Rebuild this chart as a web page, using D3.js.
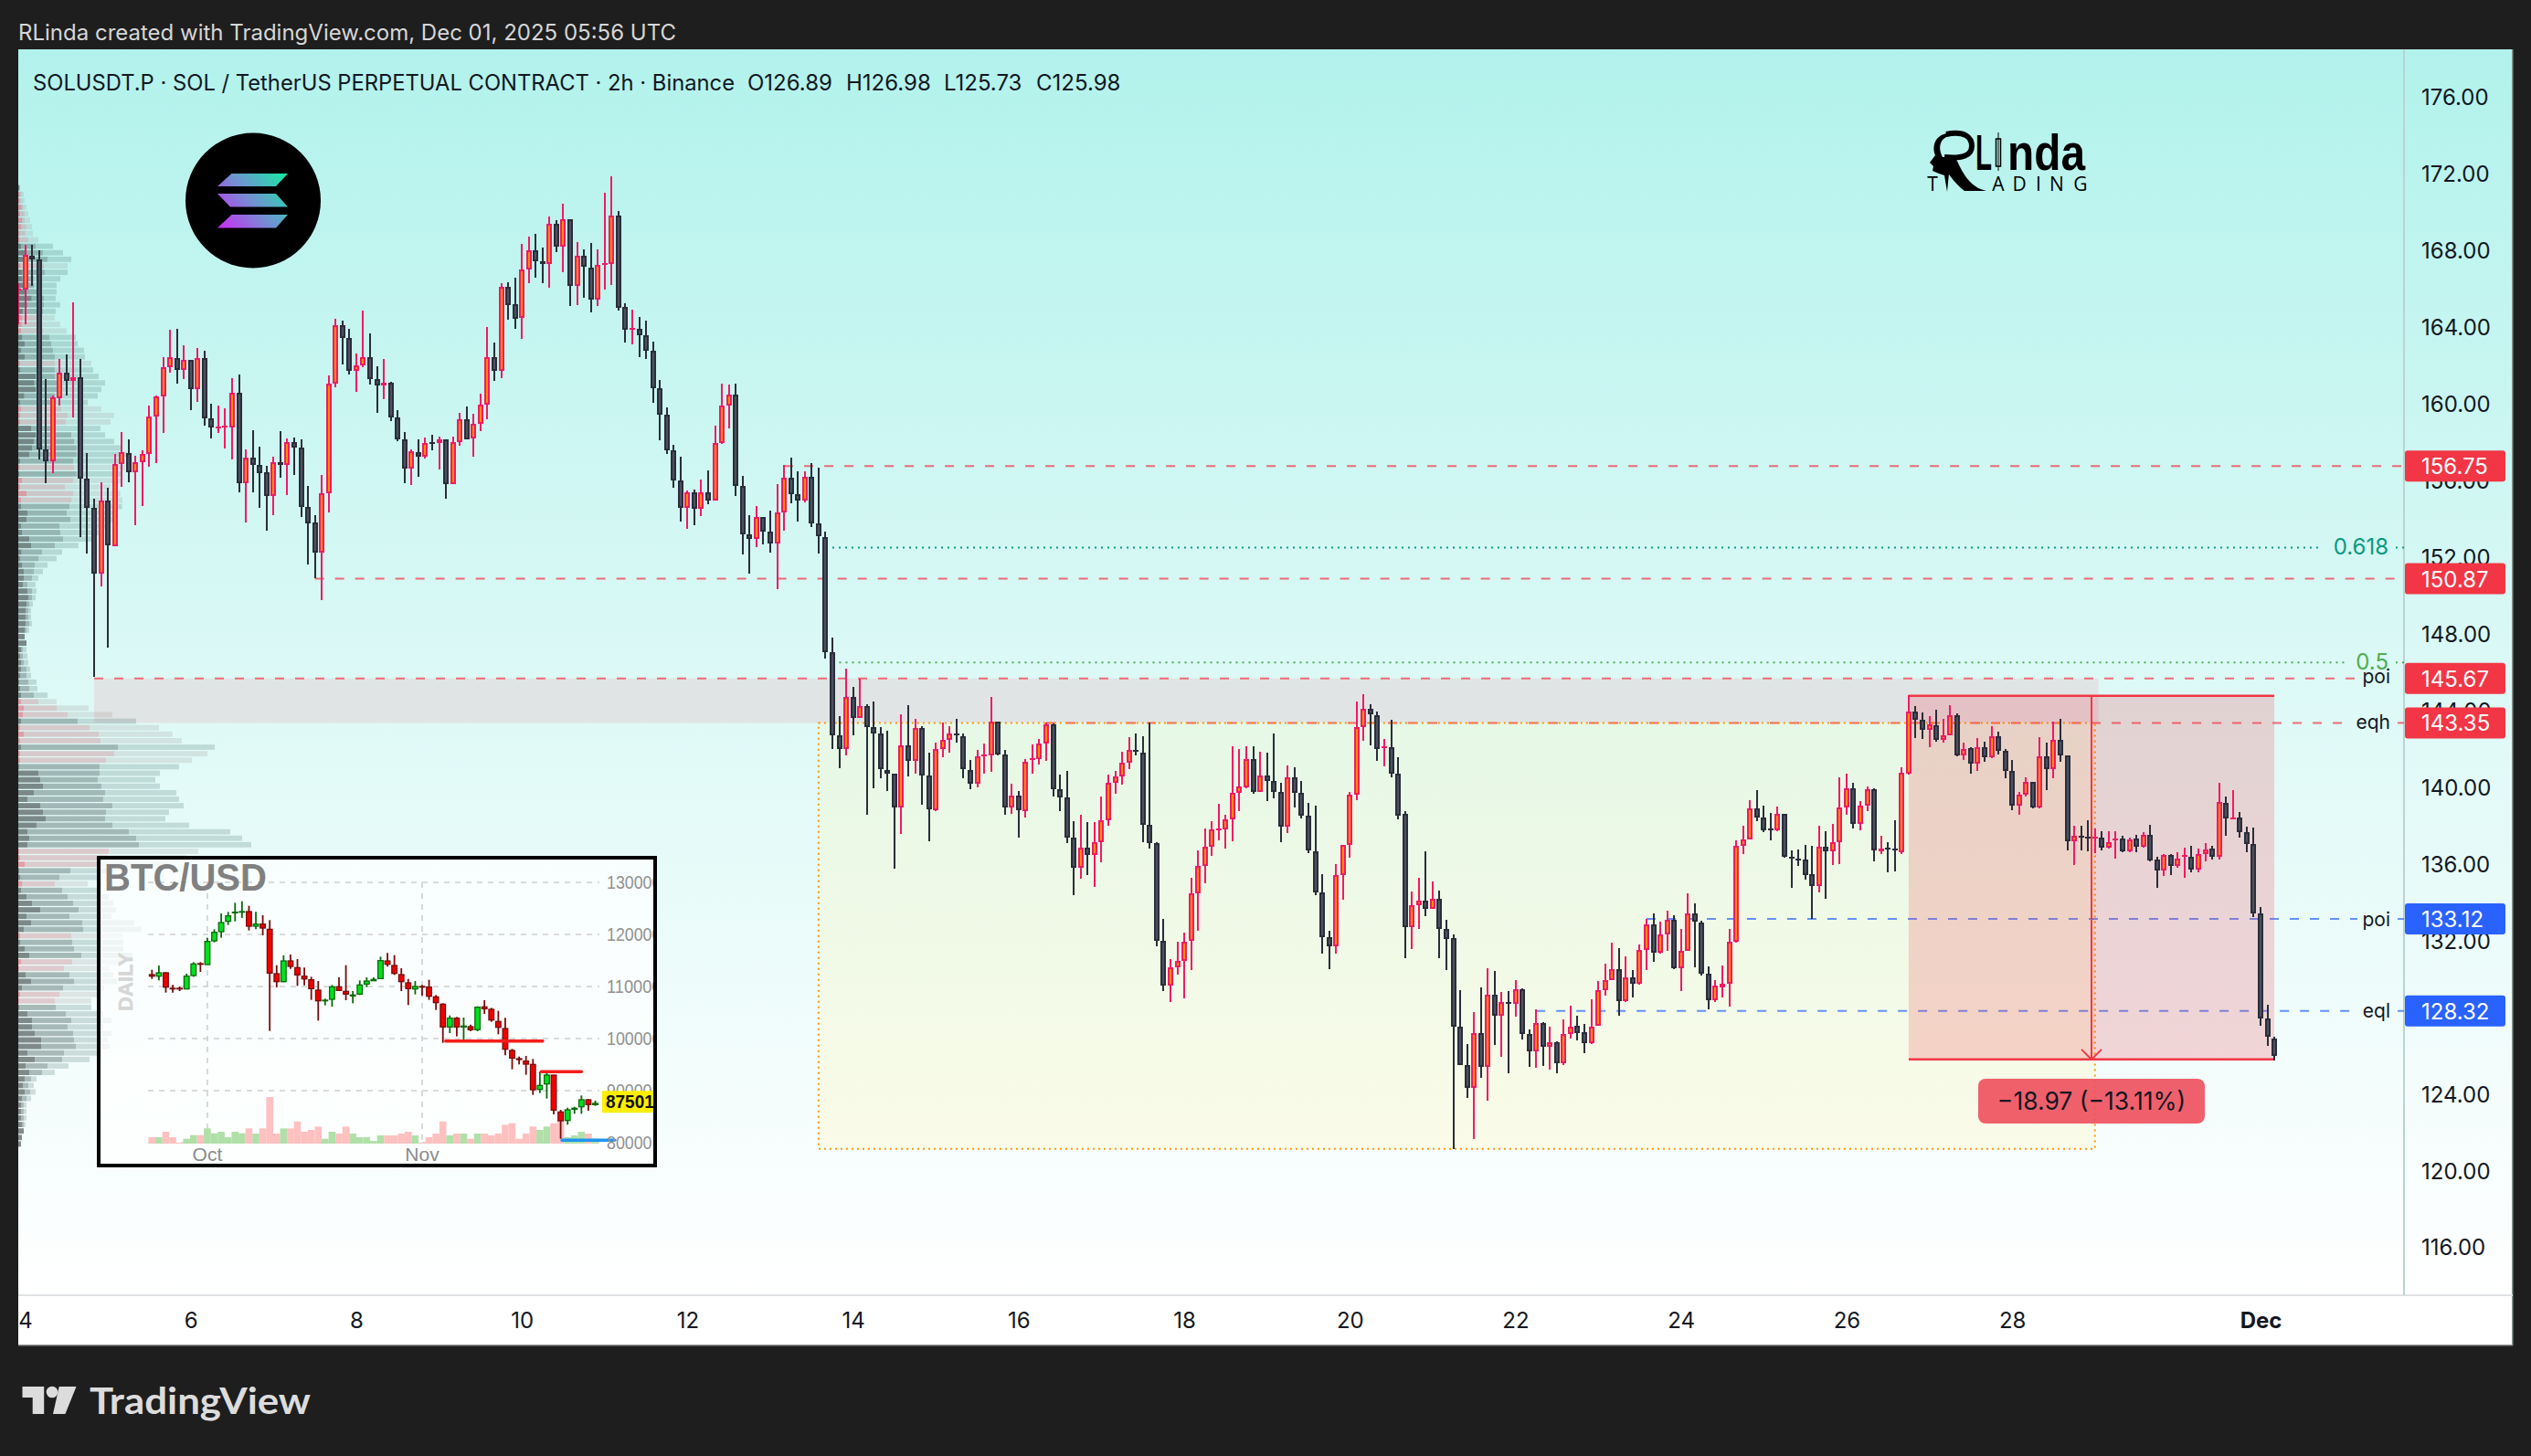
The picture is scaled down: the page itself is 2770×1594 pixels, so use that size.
<!DOCTYPE html>
<html>
<head>
<meta charset="utf-8">
<title>SOLUSDT.P 2h</title>
<script src="https://cdn.jsdelivr.net/npm/d3@7/dist/d3.min.js"></script>
<style>
html, body { margin: 0; padding: 0; background: #1e1e1e; }
svg { display: block; font-family: Inter, "Liberation Sans", sans-serif; }
</style>
</head>
<body>
<div id="chart"></div>
<script>
// SOLUSDT.P 2h bars, first bar is Nov 3 22:00 UTC, one bar every two hours
const opens = [165.95,
165.97,167.73,167.54,157.63,157.01,160.30,161.63,161.21,161.40,156.11,
154.59,151.16,154.97,152.59,156.87,157.44,156.44,156.97,157.40,159.35,
160.40,161.92,162.40,161.78,162.30,160.78,162.40,159.25,158.76,158.83,
158.78,160.59,155.87,157.21,156.83,156.44,155.21,156.97,156.83,158.02,
157.73,154.63,153.83,152.25,155.35,161.06,164.11,163.44,161.73,161.98,
162.44,161.30,160.97,161.11,159.30,158.16,156.63,157.49,157.25,158.02,
157.97,158.12,155.81,158.02,159.21,158.21,158.97,159.97,162.45,161.74,
166.12,165.21,164.50,167.02,168.02,167.45,167.31,169.40,168.21,169.64,
166.16,167.74,167.12,165.45,167.31,167.31,169.83,165.07,163.93,163.93,
163.59,162.78,160.83,159.45,157.55,156.02,154.55,155.36,154.50,155.40,
154.93,157.97,159.93,160.50,155.69,153.21,152.97,154.07,153.35,152.69,
154.31,156.12,155.26,154.97,156.21,153.78,153.04,147.05,142.69,142.00,
144.68,143.63,144.24,143.15,142.81,140.90,140.72,138.96,142.20,141.38,
143.09,140.62,138.81,142.00,142.48,142.81,142.66,140.90,140.16,141.67,
141.67,143.43,141.72,138.96,139.57,138.73,141.44,141.44,142.25,143.27,
139.90,139.45,137.38,135.77,136.82,136.46,137.15,138.25,140.24,140.57,
141.28,141.95,141.82,138.02,137.10,132.00,129.63,130.62,130.95,131.97,
134.47,135.90,136.87,137.81,137.81,138.30,139.68,139.98,141.44,139.73,
140.62,140.34,139.73,137.94,140.52,139.68,138.53,136.67,134.52,132.15,
131.67,135.39,137.00,139.62,143.15,144.09,143.76,142.07,142.10,140.72,
138.58,132.71,133.86,134.06,133.66,134.19,132.58,132.10,127.51,125.49,
124.29,127.15,125.42,129.19,128.09,128.81,128.71,129.45,127.10,126.21,
127.71,126.44,126.67,125.57,127.10,127.56,127.20,126.64,127.56,129.40,
129.91,130.49,128.83,130.06,129.75,131.51,132.86,131.38,132.33,133.09,
130.57,131.46,133.43,132.94,130.24,128.86,129.55,129.73,131.95,136.92,
137.25,138.91,138.40,137.86,137.76,138.58,136.38,136.28,136.23,135.44,
134.83,136.87,136.67,137.15,138.96,139.96,138.09,139.01,139.88,136.64,
136.84,136.77,136.61,140.70,143.96,143.50,142.99,143.25,142.48,142.71,
143.73,141.67,142.05,141.23,142.10,141.54,142.66,141.89,140.82,139.04,
139.62,140.29,138.94,141.61,140.93,142.48,141.64,137.18,137.46,137.41,
137.35,137.38,136.82,137.25,137.33,136.67,137.30,136.87,137.53,136.21,
135.67,136.44,135.87,136.36,136.38,135.72,136.49,136.77,136.38,139.19,
138.35,138.42,137.64,137.02,133.39,127.92,126.89];

const closes = [166.03,
167.75,167.54,157.63,157.01,160.33,161.63,161.21,161.40,156.11,154.59,
151.16,154.97,152.62,156.87,157.49,156.44,156.97,157.40,159.35,160.40,
161.92,162.44,161.78,162.30,160.78,162.40,159.25,158.78,158.81,158.87,
160.59,155.87,157.21,156.83,156.40,155.21,156.97,156.83,158.02,157.73,
154.63,153.78,152.25,155.35,161.06,164.11,163.44,161.73,162.02,162.44,
161.30,160.97,161.11,159.30,158.16,156.63,157.54,157.25,157.97,157.97,
158.12,155.81,158.02,159.21,158.16,158.97,159.97,162.45,161.74,166.12,
165.16,164.45,167.02,168.02,167.45,167.31,169.40,168.21,169.64,166.16,
167.74,167.16,165.45,167.26,167.35,169.83,165.02,163.88,163.97,163.59,
162.78,160.83,159.45,157.55,156.02,154.55,155.36,154.50,155.40,154.93,
157.97,159.93,160.50,155.69,153.21,152.97,154.07,153.35,152.69,154.31,
156.12,155.26,154.97,156.21,153.78,153.07,147.05,142.69,142.00,144.68,
143.63,144.24,143.12,142.81,140.93,140.72,138.96,142.20,141.38,143.09,
140.62,138.86,142.00,142.48,142.81,142.71,140.93,140.16,141.61,141.72,
143.43,141.72,138.96,139.57,138.81,141.33,141.49,142.25,143.27,139.90,
139.45,137.38,135.77,136.82,136.46,137.15,138.25,140.24,140.57,141.28,
141.95,141.84,138.02,137.10,132.00,129.63,130.62,130.95,131.95,134.47,
135.90,136.87,137.81,137.86,138.30,139.68,140.01,141.44,139.73,140.62,
140.34,139.73,137.94,140.52,139.68,138.53,136.69,134.50,132.15,131.67,
135.39,137.00,139.62,143.15,144.09,143.78,142.00,142.15,140.72,138.53,
132.71,133.86,134.06,133.63,134.19,132.58,132.07,127.51,125.49,124.29,
127.15,125.42,129.19,128.09,128.81,128.71,129.45,127.10,126.21,127.71,
126.44,126.67,125.57,127.10,127.51,127.15,126.64,127.51,129.40,129.91,
130.49,128.83,130.06,129.75,131.51,132.86,131.38,132.33,133.09,130.57,
131.46,133.43,132.97,130.24,128.86,129.63,129.73,131.95,136.92,137.25,
138.91,138.40,137.76,137.79,138.58,136.36,136.31,136.23,135.39,134.83,
136.87,136.64,137.15,138.96,139.96,138.09,139.01,139.88,136.69,136.79,
136.77,136.69,140.75,143.96,143.50,142.99,143.27,142.48,142.71,143.73,
141.67,142.00,141.23,142.10,141.54,142.66,141.87,140.82,139.04,139.62,
140.29,138.94,141.61,140.93,142.48,141.64,137.18,137.46,137.38,137.35,
137.43,136.82,137.12,137.33,136.67,137.28,136.87,137.53,136.18,135.67,
136.44,135.87,136.28,136.44,135.72,136.49,136.74,136.36,139.24,138.35,
138.43,137.64,137.02,133.39,127.92,126.96,125.98];

const highs = [166.29,
168.30,168.30,168.02,161.27,160.44,162.32,162.59,165.27,162.32,157.41,
155.03,155.89,155.60,157.36,158.51,158.13,157.27,157.59,159.89,160.44,
162.41,163.84,163.89,163.03,162.30,162.89,162.75,159.98,159.89,159.75,
161.32,161.51,157.60,158.60,157.75,156.75,157.22,158.56,158.17,158.22,
158.13,155.70,154.17,156.27,161.46,164.41,164.36,163.89,162.60,164.84,
163.65,161.94,162.32,161.16,159.65,158.51,157.60,158.13,158.22,158.37,
158.28,158.12,158.28,159.51,159.85,159.47,160.51,163.99,163.18,166.28,
166.32,166.56,168.32,168.70,168.85,168.13,169.75,169.56,170.42,169.64,
168.42,168.04,168.37,168.04,170.99,171.89,170.04,165.23,164.89,164.51,
164.32,163.23,161.23,159.80,157.85,157.23,155.47,155.51,156.04,156.51,
158.85,161.04,160.99,161.04,156.23,154.18,154.66,154.07,154.42,155.80,
156.80,157.18,156.47,156.47,156.89,156.66,153.35,147.79,143.68,146.16,
145.21,145.65,144.34,144.45,143.15,142.92,140.72,143.78,144.27,143.58,
143.17,141.79,142.30,143.37,143.17,143.55,142.81,141.41,141.92,142.28,
144.70,143.43,141.92,140.16,139.80,141.46,142.23,142.51,143.37,143.30,
140.64,140.85,138.22,138.55,138.17,138.17,139.50,140.64,140.85,141.84,
142.61,142.79,142.66,143.37,137.15,133.12,131.03,131.95,132.41,135.26,
136.69,137.84,138.22,139.11,138.55,142.12,141.97,142.12,142.12,141.84,
141.79,142.79,140.21,141.13,141.03,140.31,139.17,139.04,135.47,132.51,
135.98,137.00,139.75,144.47,144.83,144.34,143.96,142.51,143.50,141.56,
138.73,134.55,135.26,136.64,135.06,134.62,133.09,132.33,129.40,126.59,
128.27,129.55,130.57,130.39,129.29,129.37,129.93,129.52,127.38,128.40,
127.76,127.51,126.74,127.86,128.58,128.09,127.63,128.91,129.88,130.77,
131.87,131.59,131.15,130.44,131.77,133.12,133.43,132.99,133.55,133.30,
132.61,134.45,133.94,133.04,130.64,129.93,130.70,132.61,137.20,137.97,
139.32,139.83,139.04,138.66,138.99,138.60,136.69,136.74,136.97,136.95,
137.99,137.71,138.09,140.52,140.70,140.21,139.29,140.01,139.96,137.46,
137.12,138.27,141.03,144.78,144.22,143.88,143.71,144.04,143.58,144.27,
143.83,142.30,142.10,142.56,142.35,143.17,142.89,142.00,141.41,139.75,
140.52,140.29,142.63,142.30,143.40,143.58,141.67,137.97,137.97,138.27,
137.84,137.71,137.71,137.71,137.46,137.38,137.51,137.66,138.02,136.38,
136.49,136.49,136.61,136.82,136.95,136.77,137.10,136.95,140.21,139.50,
139.83,138.69,137.92,137.88,133.72,128.62,126.98];

const lows = [164.17,
164.14,166.14,157.08,155.84,156.38,159.89,160.41,159.27,153.03,152.17,
145.76,150.46,147.27,152.59,155.65,155.89,153.65,154.65,156.70,156.89,
158.46,161.60,161.03,161.27,159.65,160.08,158.84,158.17,158.46,157.65,
157.08,155.36,153.79,155.36,154.55,153.37,154.17,156.13,155.22,156.27,
154.08,151.60,150.92,149.75,154.32,160.84,162.03,161.55,160.60,161.89,
160.98,159.51,160.22,159.08,158.03,155.84,155.75,156.17,157.13,157.56,
156.56,155.04,155.81,157.80,158.12,157.23,158.56,159.18,161.18,161.32,
164.37,163.89,163.37,166.28,166.56,166.28,166.04,167.89,166.85,165.08,
165.13,165.51,164.75,165.08,165.94,166.18,164.85,163.18,163.08,162.42,
162.32,160.04,158.08,157.37,155.61,153.85,153.47,153.66,154.13,154.75,
154.93,157.89,158.70,155.18,152.13,151.13,152.51,152.66,152.23,150.32,
153.37,154.80,153.85,154.85,153.56,152.18,146.72,142.00,140.98,141.64,
142.69,143.63,138.55,139.93,140.47,139.80,135.75,137.56,140.54,140.70,
139.06,137.18,138.73,141.56,141.79,142.30,140.47,139.88,139.98,140.70,
140.80,141.64,138.55,138.60,137.35,138.40,140.70,141.18,141.36,139.50,
138.76,137.07,134.37,135.21,135.42,134.80,136.08,137.99,139.65,140.13,
140.93,141.64,137.15,136.77,131.69,129.37,128.78,130.21,128.99,130.47,
132.51,134.98,136.41,137.20,136.79,137.18,138.73,139.93,139.65,139.73,
139.27,139.42,137.12,137.61,138.94,138.37,136.56,134.37,131.31,130.52,
131.31,134.11,136.31,139.32,142.40,142.18,141.36,141.10,140.52,138.32,
131.08,131.56,132.61,133.27,133.63,131.08,130.47,121.13,125.49,123.78,
121.64,124.83,123.63,126.56,125.93,125.08,128.02,126.84,125.39,125.34,
125.47,125.26,125.08,125.52,126.87,126.79,126.10,126.61,127.56,129.11,
129.91,128.09,128.78,129.01,129.68,130.44,130.87,131.33,131.46,130.49,
129.34,131.46,130.62,130.19,128.40,128.78,129.04,128.53,131.89,136.49,
137.25,138.22,137.66,137.23,137.71,136.31,134.75,135.87,135.16,133.12,
134.50,134.19,135.93,135.98,138.55,137.84,137.76,138.73,136.13,136.49,
135.54,135.59,136.49,140.64,142.56,142.51,142.10,142.35,142.30,142.71,
141.61,141.41,140.72,140.85,141.33,141.49,141.72,140.44,138.78,138.55,
139.50,138.89,138.91,139.83,140.47,141.33,136.69,135.93,136.69,136.64,
136.56,136.69,136.77,136.26,136.61,136.61,136.61,136.82,136.13,134.73,
135.34,135.42,135.80,135.29,135.54,135.54,136.13,136.23,136.23,137.46,
138.35,137.37,136.61,133.22,127.53,126.50,125.73];

// volume profile rows, top row first, three cumulative layers per row
const vpDark = [2,3,3,9,5,11,9,3,3,8,20,32,6,12,12,18,27,42,28,14,12,10,8,11,20,8,20,5,5,56,
51,56,18,5,8,5,5,41,56,50,44,35,5,3,2,11,5,26,8,8,29,26,8,11,35,41,9,5,11,17,
17,14,29,32,26,23,23,23,20,20,26,8,5,8,8,5,2,5,
8,8,17,14,8,5,17,5,8,5,5,2,65,71,80,50,29,71,80,89,59,29,35,29,2,5,20,2,5,11,
8,26,44,71,26,41,17,5,5,20,35,8,2,23,41,11,5,2,2,29,44,44,53,74,74,29,53,23,35,20,
14,20,11,8,8,8,11,17,11,8];
const vpMid = [3,10,10,15,20,20,26,23,32,56,80,95,83,86,50,50,60,83,83,80,60,60,80,101,107,113,119,119,119,120,
125,125,119,110,140,161,155,122,173,182,190,190,179,182,190,179,152,179,173,167,158,170,134,137,146,119,77,65,53,50,
44,29,44,44,35,32,32,35,26,20,26,14,14,17,26,26,32,35,
50,65,125,161,194,233,263,269,326,314,287,266,266,260,272,284,278,308,287,284,308,362,386,395,296,290,265,170,134,119,
143,161,179,197,167,209,212,173,176,182,206,176,149,167,182,146,134,119,122,155,173,161,179,182,188,149,143,95,77,41,
32,38,26,17,17,17,17,17,11,8];
const vpLight = [5,17,20,26,32,38,44,47,65,113,146,173,161,161,137,125,125,122,137,122,119,137,158,188,194,215,218,239,245,263,
284,272,260,227,272,314,302,269,284,314,335,355,350,350,340,335,302,335,341,340,310,320,300,280,240,196,143,125,95,80,
65,56,59,56,47,41,41,44,35,20,26,26,29,32,38,41,59,62,
95,125,230,308,386,461,506,536,644,620,569,527,464,449,464,518,527,542,494,482,560,695,734,764,590,551,495,300,260,227,
270,296,311,320,305,380,404,341,344,344,374,344,299,311,323,281,265,239,239,278,305,278,305,293,299,260,233,164,119,59,
50,56,41,26,26,26,23,17,11,8];
const vpPinkRows = [1,2,3,4,5,6,7,8,12,20,21,22,27,34,35,36,43,45,46,47,48,79,80,81,83,84,85,87,88,102,103,104,107,115,119,120,124,125];
const vpTopPrice = 171.27, vpPriceStep = 0.3394;

// axis ticks and drawn levels
const priceTicks = [176,172,168,164,160,156,152,148,144,140,136,132,128,124,120,116];
const dayTicks = [4,6,8,10,12,14,16,18,20,22,24,26,28];
const redLevels = [156.75,150.87,145.67,143.35];
const redStartBars = [110,42,10,148];
const redLabels = ["","","poi","eqh"];
const blueLevels = [133.12,128.32];
const blueStartBars = [235,219];
const blueLabels = ["poi","eql"];
const fibLevels = [152.5,146.5];
const fibLabels = ["0.618","0.5"];
const fibStartBars = [117,118];
const zoneTop = 145.67, zoneBottom = 143.35;
const boxTop = 143.35, boxBottom = 121.13;
const measureTop = 144.76, measureBottom = 125.79;
const measureText = "\u221218.97 (\u221213.11%)";
const ohlcLabels = ["O126.89","H126.98","L125.73","C125.98"];

// BTC/USD daily inset, first bar is Sep 23
const btcOpens = [112281,111988,112632,109649,109649,109532,112105,114386,114211,118772,120526,122515,124152,124269,124386,121579,121989,120994,112457,110936,114912,113626,111988,111287,109298,107251,107544,109942,109064,108187,108538,110468,111111,111520,114912,114035,112281,110702,109532,110000,109883,108012,106608,102222,103918,102222,102281,101696,106082,105614,103275,101930,97719,96140,95672,95029,90234,91286,92982,85906,84269,86433,86901,88246,87310];
const btcCloses = [111988,112632,109883,109532,109532,111988,114328,114269,118655,120409,122281,123567,124269,124386,121579,121989,121228,112573,110936,114912,113860,112222,111462,109591,107251,107369,109942,109240,108538,108363,110292,111053,111345,114970,114269,112515,110936,109591,110000,109883,108129,106901,102222,103918,102222,102398,101696,106023,105731,103567,102163,97953,96257,95965,95088,90175,90994,92982,86257,84211,86316,86608,88246,87310,87544];
const btcHighs = [113216,114035,112749,110292,110000,112457,114678,114678,119357,120994,124035,124328,126082,126374,125497,124328,123684,122749,114094,115965,116140,115263,113626,111871,111053,107661,110292,111754,114094,109123,111170,111754,111754,115731,116433,116023,113509,111462,111053,110292,111287,108363,106784,104444,104152,104035,102690,106199,107368,105906,105322,103977,98012,96550,96667,96082,93626,93333,92982,86316,86725,86900,89064,88363,88070];
const btcLows = [111462,111170,108830,108830,109123,109532,111871,112807,114211,118480,119357,121813,122515,123158,120760,120994,119825,101462,109825,110819,113392,110117,110234,107427,103450,106374,106140,109123,107368,106784,108363,109883,111111,111520,113801,112222,109123,106433,108480,108246,107427,105497,99181,101053,100409,99357,101404,101404,104737,103216,100819,96784,94093,95030,93041,89181,89532,88480,85438,80760,83450,85556,85556,86140,87076];
const btcVolumes = [21,21,39,21,3,16,28,28,50,34,39,21,39,34,50,33,50,153,33,50,50,73,39,45,56,16,39,33,56,33,21,21,9,27,27,27,33,39,27,3,21,33,73,27,33,33,16,33,33,27,33,62,67,16,33,56,45,56,67,76,21,27,39,33,16];
const btcPriceTicks = [130000,120000,110000,100000,90000,80000];
const btcMonthBars = [8,39];
const btcMonthLabels = ["Oct","Nov"];
const btcLastPrice = 87501;
const btcRedLevels = [99533,93625];
const btcRedFrom = [42.4,56.2];
const btcRedTo = [56.4,62];
const btcBlueLevel = 80470;

const W = 2770, H = 1594;
const plotLeft = 20, plotRight = 2631, plotTop = 54, plotBottom = 1418, frameRight = 2750, frameBottom = 1473;
const twoHours = 7200000, nov4 = Date.UTC(2025, 10, 4), dec1 = Date.UTC(2025, 11, 1);

const svg = d3.select("#chart").append("svg").attr("width", W).attr("height", H);
const defs = svg.append("defs");

const x = d3.scaleUtc().domain([nov4, dec1]).range([27.5, 2474]);
const y = d3.scaleLinear().domain([176, 116]).range([106.3, 1365.3]);
const barX = i => x(nov4 + i * twoHours);

const bgGrad = defs.append("linearGradient").attr("id", "bg").attr("gradientUnits", "userSpaceOnUse")
    .attr("x1", 0).attr("y1", plotTop).attr("x2", 0).attr("y2", plotBottom);
bgGrad.append("stop").attr("offset", 0).attr("stop-color", "#b2f2ec");
bgGrad.append("stop").attr("offset", 0.5).attr("stop-color", "#dcf9f6");
bgGrad.append("stop").attr("offset", 1).attr("stop-color", "#ffffff");

const boxGrad = defs.append("linearGradient").attr("id", "boxfill").attr("x1", 0).attr("y1", 0).attr("x2", 0).attr("y2", 1);
boxGrad.append("stop").attr("offset", 0).attr("stop-color", "#e6f8e6");
boxGrad.append("stop").attr("offset", 1).attr("stop-color", "#fafbe8");

const solGrad = defs.append("linearGradient").attr("id", "sol").attr("gradientUnits", "userSpaceOnUse")
    .attr("x1", 240).attr("y1", 250).attr("x2", 315).attr("y2", 190);
solGrad.append("stop").attr("offset", 0).attr("stop-color", "#cc2cf5");
solGrad.append("stop").attr("offset", 0.5).attr("stop-color", "#6f94d2");
solGrad.append("stop").attr("offset", 1).attr("stop-color", "#12eea0");

defs.append("clipPath").attr("id", "plotclip").append("rect")
    .attr("x", plotLeft).attr("y", plotTop).attr("width", plotRight - plotLeft).attr("height", plotBottom - plotTop);
defs.append("clipPath").attr("id", "timeclip").append("rect")
    .attr("x", plotLeft).attr("y", plotBottom).attr("width", plotRight - plotLeft).attr("height", frameBottom - plotBottom);
defs.append("clipPath").attr("id", "insetclip").append("rect")
    .attr("x", 110).attr("y", 941).attr("width", 605).attr("height", 333);

// header
svg.append("text").attr("x", 20).attr("y", 44).attr("fill", "#d6d6d6").attr("font-size", 24)
    .text("RLinda created with TradingView.com, Dec 01, 2025 05:56 UTC");

// frame
svg.append("rect").attr("x", plotLeft).attr("y", plotTop).attr("width", frameRight - plotLeft).attr("height", frameBottom - plotTop)
    .attr("fill", "url(#bg)");
svg.append("rect").attr("x", plotLeft).attr("y", plotBottom).attr("width", frameRight - plotLeft).attr("height", frameBottom - plotBottom)
    .attr("fill", "#ffffff");
svg.append("rect").attr("x", frameRight - 1).attr("y", plotTop).attr("width", 1.5).attr("height", frameBottom - plotTop).attr("fill", "#8a9494");
svg.append("rect").attr("x", plotLeft).attr("y", frameBottom - 1).attr("width", frameRight - plotLeft).attr("height", 1.5).attr("fill", "#8a8a8a");
svg.append("rect").attr("x", plotLeft).attr("y", plotBottom - 1).attr("width", frameRight - plotLeft).attr("height", 2).attr("fill", "#e0e3e6");
svg.append("rect").attr("x", plotRight - 1).attr("y", plotTop).attr("width", 2).attr("height", plotBottom - plotTop).attr("fill", "#b9d4d2");

const plot = svg.append("g").attr("clip-path", "url(#plotclip)");

// grey zone and orange box
plot.append("rect").attr("x", barX(10)).attr("y", y(zoneTop)).attr("width", barX(300.5) - barX(10)).attr("height", y(zoneBottom) - y(zoneTop))
    .attr("fill", "#e1e4e4");
plot.append("rect").attr("x", barX(115)).attr("y", y(boxTop)).attr("width", barX(300) - barX(115)).attr("height", y(boxBottom) - y(boxTop))
    .attr("fill", "url(#boxfill)");

// volume profile
const vpX = d3.scaleLinear().domain([0, 900]).range([plotLeft + 0.3, plotLeft + 300.3]);
const vpRows = vpLight.map((v, k) => ({
    price: vpTopPrice - k * vpPriceStep,
    dark: vpDark[k], mid: vpMid[k], light: v,
    pink: vpPinkRows.includes(k)
}));
const vp = plot.append("g");
const layer = (key, teal, pink) => vp.selectAll(null).data(vpRows).enter().append("rect")
    .attr("x", plotLeft)
    .attr("y", d => y(d.price) - 2.9)
    .attr("width", d => vpX(d[key]) - plotLeft)
    .attr("height", 5.8)
    .attr("fill", d => d.pink ? pink : teal);
layer("light", "rgba(70,110,105,0.22)", "rgba(150,140,140,0.2)");
layer("mid", "rgba(70,85,85,0.26)", "rgba(235,100,120,0.2)");
layer("dark", "rgba(60,60,60,0.38)", "rgba(240,90,110,0.4)");

// horizontal levels, a gap is left where the label sits
const hline = (price, from, to, color, dash) => plot.append("line")
    .attr("x1", from).attr("x2", to).attr("y1", y(price)).attr("y2", y(price))
    .attr("stroke", color).attr("stroke-width", 2).attr("stroke-dasharray", dash);
const redDash = "10 12", redCol = "rgba(242,54,69,0.72)", blueCol = "rgba(41,98,255,0.7)";
redLevels.forEach((p, i) => {
    const sx = barX(redStartBars[i]);
    if (redLabels[i] === "poi") hline(p, sx, 2578, redCol, redDash);
    else if (redLabels[i] === "eqh") { hline(p, sx, 2565, redCol, redDash); hline(p, 2624, plotRight, redCol, redDash); }
    else hline(p, sx, plotRight, redCol, redDash);
});
blueLevels.forEach((p, i) => {
    const sx = barX(blueStartBars[i]);
    hline(p, sx, 2572 + (blueLabels[i] === "poi" ? 8 : 0), blueCol, redDash);
    hline(p, 2624, plotRight, blueCol, redDash);
});
const fibCols = ["#089981", "#4caf50"], fibGapFrom = [2539, 2570];
fibLevels.forEach((p, i) => {
    hline(p, barX(fibStartBars[i]), fibGapFrom[i], fibCols[i], "2 5");
    hline(p, 2622, plotRight, fibCols[i], "2 5");
});

// outline of the orange box goes over the eqh level
plot.append("rect").attr("x", barX(115)).attr("y", y(boxTop)).attr("width", barX(300) - barX(115)).attr("height", y(boxBottom) - y(boxTop))
    .attr("fill", "none").attr("stroke", "#ff9800").attr("stroke-width", 2).attr("stroke-dasharray", "2 4");

// measure tool
const mx1 = barX(273), mx2 = barX(326);
const mMid = (mx1 + mx2) / 2;
plot.append("rect").attr("x", mx1).attr("y", y(measureTop)).attr("width", mx2 - mx1).attr("height", y(measureBottom) - y(measureTop))
    .attr("fill", "rgba(242,54,69,0.2)");
[measureTop, measureBottom].forEach(p => plot.append("line").attr("x1", mx1).attr("x2", mx2).attr("y1", y(p)).attr("y2", y(p))
    .attr("stroke", "#f23645").attr("stroke-width", 2.5));
plot.append("line").attr("x1", mMid).attr("x2", mMid).attr("y1", y(measureTop)).attr("y2", y(measureBottom))
    .attr("stroke", "#f23645").attr("stroke-width", 2);
plot.append("path").attr("d", `M${mMid - 11},${y(measureBottom) - 11}L${mMid},${y(measureBottom)}L${mMid + 11},${y(measureBottom) - 11}`)
    .attr("fill", "none").attr("stroke", "#f23645").attr("stroke-width", 2);

// candles
const bars = opens.map((o, k) => ({ i: k - 1, o: o, c: closes[k], h: highs[k], l: lows[k] }));
const candles = plot.append("g").attr("shape-rendering", "crispEdges");
const candle = candles.selectAll("g").data(bars).enter().append("g")
    .attr("transform", d => `translate(${Math.round(barX(d.i))},0)`);
candle.append("rect").attr("x", -1).attr("width", 2)
    .attr("y", d => y(d.h)).attr("height", d => y(d.l) - y(d.h))
    .attr("fill", d => d.c >= d.o ? "#f01a64" : "#2a2e39");
candle.append("rect").attr("x", -3).attr("width", 6)
    .attr("y", d => y(Math.max(d.o, d.c)))
    .attr("height", d => Math.max(2, Math.abs(y(d.o) - y(d.c))))
    .attr("fill", d => d.c >= d.o ? "#f01a64" : "#2a2e39");
candle.append("rect").attr("x", -1).attr("width", 2)
    .attr("y", d => y(Math.max(d.o, d.c)) + 2)
    .attr("height", d => Math.max(0, Math.abs(y(d.o) - y(d.c)) - 4))
    .attr("fill", d => d.c >= d.o ? "#ff8c00" : "#4d5162");

// measure label
svg.append("rect").attr("x", mMid - 124).attr("y", 1181).attr("width", 248).attr("height", 49).attr("rx", 8)
    .attr("fill", "rgba(238,82,96,0.92)");
svg.append("text").attr("x", mMid).attr("y", 1215).attr("text-anchor", "middle").attr("font-size", 26.5).attr("fill", "#131722")
    .text(measureText);

// level labels
const levelLabel = (txt, yy, xEnd, col, size) => svg.append("text").attr("x", xEnd).attr("y", yy).attr("text-anchor", "end")
    .attr("font-size", size).attr("fill", col).text(txt);
levelLabel("poi", y(145.67) + 5, 2616, "#131722", 21);
levelLabel("eqh", y(143.35) + 7, 2616, "#131722", 21);
levelLabel("poi", y(133.12) + 8, 2616, "#131722", 21);
levelLabel("eql", y(128.32) + 7, 2616, "#131722", 21);
levelLabel(fibLabels[0], y(fibLevels[0]) + 8, 2614, fibCols[0], 24);
levelLabel(fibLabels[1], y(fibLevels[1]) + 8, 2614, fibCols[1], 24);

// price axis
const yAxis = d3.axisRight(y).tickValues(priceTicks).tickFormat(d3.format(".2f")).tickSize(0).tickPadding(19);
const yAxisG = svg.append("g").attr("transform", `translate(${plotRight},1)`).call(yAxis);
yAxisG.select(".domain").remove();
yAxisG.selectAll("text").attr("font-family", "Inter").attr("font-size", 24).attr("fill", "#131722");

// price tags
const tagData = redLevels.map(p => ({ p: p, col: "#f23645" })).concat(blueLevels.map(p => ({ p: p, col: "#2962ff" })));
const tag = svg.selectAll("g.tag").data(tagData).enter().append("g").attr("class", "tag");
tag.append("rect").attr("x", plotRight + 1).attr("y", d => y(d.p) - 17).attr("width", 110).attr("height", 34).attr("rx", 3)
    .attr("fill", d => d.col);
tag.append("text").attr("x", plotRight + 19).attr("y", d => y(d.p) + 9).attr("font-size", 24).attr("fill", "#ffffff")
    .text(d => d.p.toFixed(2));

// time axis
const xAxis = d3.axisBottom(x)
    .tickValues(dayTicks.map(d => new Date(Date.UTC(2025, 10, d))).concat([new Date(dec1)]))
    .tickFormat(d => +d === dec1 ? "Dec" : d.getUTCDate())
    .tickSize(0).tickPadding(19);
const xAxisG = svg.append("g").attr("clip-path", "url(#timeclip)").append("g").attr("transform", `translate(0,${plotBottom})`).call(xAxis);
xAxisG.select(".domain").remove();
xAxisG.selectAll("text").attr("font-family", "Inter").attr("font-size", 24).attr("fill", "#131722")
    .attr("font-weight", d => +d === dec1 ? 700 : 400);

// title
svg.append("text").attr("x", 36).attr("y", 99).attr("font-size", 24).attr("fill", "#131722")
    .attr("textLength", 768).attr("lengthAdjust", "spacingAndGlyphs")
    .text("SOLUSDT.P \u00b7 SOL / TetherUS PERPETUAL CONTRACT \u00b7 2h \u00b7 Binance");
const ohlcX = [818, 926, 1033, 1134];
ohlcLabels.forEach((t, i) => svg.append("text").attr("x", ohlcX[i]).attr("y", 99).attr("font-size", 24).attr("fill", "#131722").text(t));

// Solana logo
svg.append("circle").attr("cx", 277).attr("cy", 219.5).attr("r", 74).attr("fill", "#000");
svg.append("path").attr("fill", "url(#sol)")
    .attr("d", "M238,204L253.5,190L315,190L302,204ZM238,212L302,212L315,226.5L252,226.5ZM238,249.5L253.5,235L315,235L302,249.5Z");

// RLinda logo
const rl = svg.append("g").attr("fill", "#000");
rl.append("path").attr("d", "M2131,146C2118,148 2114,160 2118,170L2112,178L2116,182L2115,187L2122,190L2128,192L2131,210L2133,190L2126,172C2120,160 2124,150 2136,148Z");
rl.append("path").attr("d", "M2130,147C2150,143 2158,150 2158,160C2158,170 2148,174 2128,172").attr("fill", "none").attr("stroke", "#000").attr("stroke-width", 6);
rl.append("path").attr("d", "M2126,172L2140,172C2148,190 2156,205 2174,209L2150,209C2138,200 2130,187 2124,176Z");
rl.append("text").attr("x", 2162).attr("y", 186).attr("font-size", 56).attr("font-weight", 700).attr("font-family", "Liberation Sans").attr("textLength", 18).attr("lengthAdjust", "spacingAndGlyphs").text("L");
rl.append("rect").attr("x", 2184.5).attr("y", 152).attr("width", 5).attr("height", 30).attr("fill", "none").attr("stroke", "#000").attr("stroke-width", 1.5);
rl.append("rect").attr("x", 2186.5).attr("y", 145).attr("width", 1).attr("height", 42);
rl.append("text").attr("x", 2197).attr("y", 186).attr("font-size", 56).attr("font-weight", 700).attr("font-family", "Liberation Sans").attr("textLength", 85).attr("lengthAdjust", "spacingAndGlyphs").text("nda");
const tradingXs = [2115, 2187, 2210, 2231, 2251, 2277];
["T", "A", "D", "I", "N", "G"].forEach((ch, i) => rl.append("text").attr("x", tradingXs[i]).attr("y", 209).attr("text-anchor", "middle")
    .attr("font-size", 21).attr("font-family", "Open Sans").text(ch));

// BTC inset
const inset = svg.append("g");
inset.append("rect").attr("x", 108).attr("y", 939).attr("width", 609).attr("height", 337)
    .attr("fill", "rgba(255,255,255,0.72)").attr("stroke", "#000").attr("stroke-width", 4);
const insetBody = inset.append("g").attr("clip-path", "url(#insetclip)");
const bx = d3.scaleLinear().domain([0, 64]).range([166.3, 651.5]);
const by = d3.scaleLinear().domain([130000, 80000]).range([966, 1251]);
const bv = d3.scaleLinear().domain([0, 153]).range([1252, 1201]);
insetBody.selectAll("line.gh").data(btcPriceTicks).enter().append("line").attr("class", "gh")
    .attr("x1", 162).attr("x2", 656).attr("y1", d => by(d)).attr("y2", d => by(d))
    .attr("stroke", "#cfcfcf").attr("stroke-width", 1.6).attr("stroke-dasharray", "6 6");
insetBody.selectAll("line.gv").data(btcMonthBars).enter().append("line").attr("class", "gv")
    .attr("x1", d => bx(d)).attr("x2", d => bx(d)).attr("y1", 966).attr("y2", 1251)
    .attr("stroke", "#cfcfcf").attr("stroke-width", 1.6).attr("stroke-dasharray", "6 6");
insetBody.append("text").attr("x", 114).attr("y", 975).attr("font-size", 42).attr("font-weight", 700).attr("fill", "#808080")
    .attr("font-family", "Liberation Sans").attr("textLength", 178).attr("lengthAdjust", "spacingAndGlyphs").text("BTC/USD");
insetBody.append("text").attr("transform", "translate(145,1107) rotate(-90)").attr("font-size", 22).attr("font-weight", 700)
    .attr("fill", "#d6d6d6").attr("stroke", "#d6d6d6").attr("stroke-width", 0.6).attr("font-family", "Liberation Sans")
    .attr("textLength", 64).attr("lengthAdjust", "spacingAndGlyphs").text("DAILY");
const btcBars = btcOpens.map((o, k) => ({ i: k, o: o, c: btcCloses[k], h: btcHighs[k], l: btcLows[k], v: btcVolumes[k] }));
insetBody.selectAll("rect.vol").data(btcBars).enter().append("rect").attr("class", "vol")
    .attr("x", d => bx(d.i) - 3.8).attr("width", 7.6)
    .attr("y", d => bv(d.v)).attr("height", d => bv(0) - bv(d.v))
    .attr("fill", d => d.c >= d.o ? "#b0e0a8" : "#ffc0c0");
const insetCandle = insetBody.selectAll("g.bc").data(btcBars).enter().append("g").attr("class", "bc")
    .attr("transform", d => `translate(${bx(d.i)},0)`);
insetCandle.append("line").attr("y1", d => by(d.h)).attr("y2", d => by(d.l))
    .attr("stroke", d => d.c >= d.o ? "#0a6a0a" : "#7a0a0a").attr("stroke-width", 1.8);
insetCandle.append("rect").attr("x", -2.8).attr("width", 5.6)
    .attr("y", d => by(Math.max(d.o, d.c))).attr("height", d => Math.max(0.5, Math.abs(by(d.o) - by(d.c))))
    .attr("fill", d => d.c >= d.o ? "#00e020" : "#f00000")
    .attr("stroke", d => d.c >= d.o ? "#0a6a0a" : "#7a0a0a").attr("stroke-width", 1.3);
btcRedLevels.forEach((p, i) => insetBody.append("line").attr("x1", bx(btcRedFrom[i])).attr("x2", bx(btcRedTo[i])).attr("y1", by(p)).attr("y2", by(p))
    .attr("stroke", "#f51c1c").attr("stroke-width", 3.5).attr("stroke-linecap", "round"));
insetBody.append("line").attr("x1", bx(59.2)).attr("x2", bx(66.8)).attr("y1", by(btcBlueLevel)).attr("y2", by(btcBlueLevel))
    .attr("stroke", "#1e96f0").attr("stroke-width", 3.5).attr("stroke-linecap", "round");
const bAxis = d3.axisRight(by).tickValues(btcPriceTicks).tickFormat(d => d).tickSize(0).tickPadding(0);
const bAxisG = insetBody.append("g").attr("transform", "translate(664,0)").call(bAxis);
bAxisG.select(".domain").remove();
bAxisG.selectAll("text").attr("font-family", "Liberation Sans").attr("font-size", 21).attr("fill", "#919191")
    .attr("textLength", d => String(d).length * 9.9).attr("lengthAdjust", "spacingAndGlyphs");
insetBody.append("rect").attr("x", 659).attr("y", by(btcLastPrice) - 14).attr("width", 56).attr("height", 24).attr("fill", "#ffee00");
insetBody.append("text").attr("x", 663).attr("y", by(btcLastPrice) + 5).attr("font-size", 21).attr("font-weight", 700)
    .attr("font-family", "Liberation Sans").attr("fill", "#111").attr("textLength", 58).attr("lengthAdjust", "spacingAndGlyphs").text(btcLastPrice + ".");
insetBody.selectAll("text.mon").data(btcMonthLabels).enter().append("text").attr("class", "mon")
    .attr("x", (d, i) => bx(btcMonthBars[i])).attr("y", 1271).attr("text-anchor", "middle")
    .attr("font-size", 21).attr("font-family", "Liberation Sans").attr("fill", "#8a8a8a").text(d => d);

// TradingView mark
const tv = svg.append("g").attr("fill", "#dcdcdc");
tv.append("path").attr("d", "M24.5,1518L48.2,1518L48.2,1548L35.7,1548L35.7,1530L24.5,1530Z");
tv.append("circle").attr("cx", 57).attr("cy", 1524).attr("r", 6.3);
tv.append("path").attr("d", "M64.7,1518L83.5,1518L71.4,1548L58,1548Z");
tv.append("text").attr("x", 98).attr("y", 1548).attr("font-size", 41).attr("font-weight", 700).attr("font-family", "Lato")
    .attr("textLength", 242).attr("lengthAdjust", "spacingAndGlyphs").text("TradingView");
</script>
</body>
</html>
